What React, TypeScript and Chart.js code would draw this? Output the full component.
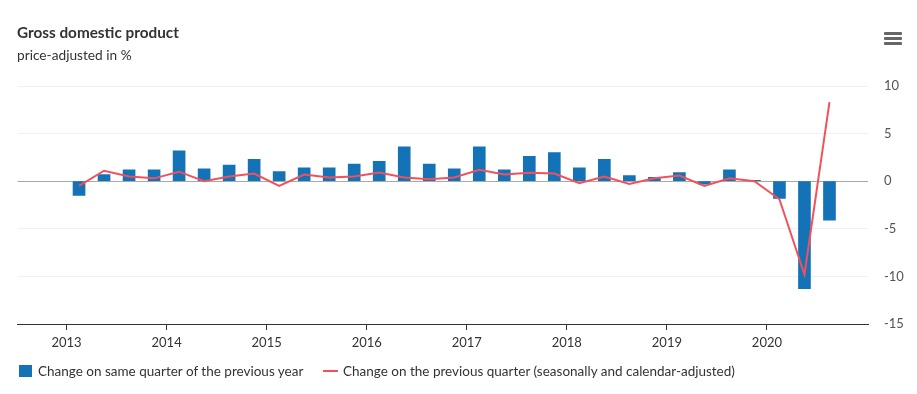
import React, { useEffect, useRef } from "react";
import { Chart, registerables } from "chart.js";

Chart.register(...registerables);

const quarters: string[] = [
  "2013 Q1", "2013 Q2", "2013 Q3", "2013 Q4",
  "2014 Q1", "2014 Q2", "2014 Q3", "2014 Q4",
  "2015 Q1", "2015 Q2", "2015 Q3", "2015 Q4",
  "2016 Q1", "2016 Q2", "2016 Q3", "2016 Q4",
  "2017 Q1", "2017 Q2", "2017 Q3", "2017 Q4",
  "2018 Q1", "2018 Q2", "2018 Q3", "2018 Q4",
  "2019 Q1", "2019 Q2", "2019 Q3", "2019 Q4",
  "2020 Q1", "2020 Q2", "2020 Q3",
];

const yearOnYear: number[] = [
  -1.5, 0.7, 1.2, 1.2,
  3.2, 1.3, 1.7, 2.3,
  1.0, 1.4, 1.4, 1.8,
  2.1, 3.6, 1.8, 1.3,
  3.6, 1.2, 2.6, 3.0,
  1.4, 2.3, 0.6, 0.4,
  0.9, -0.3, 1.2, 0.1,
  -1.8, -11.3, -4.1,
];

const quarterOnQuarter: number[] = [
  -0.5, 1.1, 0.5, 0.3,
  1.0, 0.0, 0.5, 0.8,
  -0.5, 0.7, 0.4, 0.5,
  0.9, 0.4, 0.2, 0.4,
  1.2, 0.7, 0.9, 0.8,
  -0.2, 0.5, -0.3, 0.3,
  0.6, -0.5, 0.3, 0.0,
  -1.9, -9.8, 8.3,
];

const yearTicks: number[] = [2013, 2014, 2015, 2016, 2017, 2018, 2019, 2020];
const yTicks: number[] = [-15, -10, -5, 0, 5, 10];

const barLabel = "Change on same quarter of the previous year";
const lineLabel = "Change on the previous quarter (seasonally and calendar-adjusted)";

const BLUE = "#1473b6";
const RED = "#f4505c";
const FONT = "Lato, 'Noto Sans', sans-serif";

// quarter label -> decimal year at the middle of the quarter
function quarterToX(q: string): number {
  const [y, qq] = q.split(" Q");
  return Number(y) + (Number(qq) - 0.5) / 4;
}

export default function App() {
  const canvasRef = useRef<HTMLCanvasElement | null>(null);

  useEffect(() => {
    document.body.style.margin = "0";
    const canvas = canvasRef.current;
    if (!canvas) return;
    const xs = quarters.map(quarterToX);
    const chart = new Chart(canvas, {
      type: "bar",
      data: {
        datasets: [
          {
            type: "line",
            label: lineLabel,
            data: xs.map((x, i) => ({ x, y: quarterOnQuarter[i] })),
            borderColor: RED,
            backgroundColor: RED,
            borderWidth: 2,
            pointRadius: 0,
            tension: 0,
            order: 0,
          } as any,
          {
            type: "bar",
            label: barLabel,
            data: xs.map((x, i) => ({ x, y: yearOnYear[i] })),
            backgroundColor: BLUE,
            borderWidth: 0,
            barThickness: 12,
            order: 1,
          } as any,
        ],
      },
      options: {
        responsive: false,
        animation: false,
        maintainAspectRatio: false,
        layout: { padding: { top: 86, left: 17.5, right: 0, bottom: 38.4 } },
        plugins: {
          legend: { display: false },
          tooltip: { enabled: false },
          title: { display: false },
        },
        scales: {
          x: {
            type: "linear",
            min: 2012.51,
            max: 2021.01,
            offset: false,
            afterBuildTicks: (axis: any) => {
              axis.ticks = yearTicks.map((v) => ({ value: v }));
            },
            grid: {
              offset: false,
              drawOnChartArea: false,
              drawTicks: true,
              tickLength: 6,
              color: "#333333",
              lineWidth: 1,
            },
            border: { display: true, color: "#333333", width: 1 },
            ticks: {
              autoSkip: false,
              maxRotation: 0,
              padding: 5,
              color: "#333333",
              font: { family: FONT, size: 13 },
              callback: (v: any) => String(v),
            },
          },
          y: {
            type: "linear",
            position: "right",
            min: -15,
            max: 10,
            afterBuildTicks: (axis: any) => {
              axis.ticks = yTicks.map((v) => ({ value: v }));
            },
            afterFit: (axis: any) => {
              axis.width = 49;
            },
            grid: {
              drawTicks: false,
              color: (ctx: any) => (ctx.tick && ctx.tick.value === 0 ? "#a9a9a9" : "#f0f0f0"),
              lineWidth: 1,
            },
            border: { display: false },
            ticks: {
              padding: 16,
              color: "#555555",
              font: { family: FONT, size: 13 },
              callback: (v: any) => String(v),
            },
          },
        },
      },
    });
    return () => chart.destroy();
  }, []);

  const bar = (top: number) => (
    <div
      style={{
        position: "absolute",
        left: 884,
        top,
        width: 18,
        height: 2.7,
        background: "#666666",
        borderRadius: 1,
      }}
    />
  );

  return (
    <div
      style={{
        position: "relative",
        width: 917,
        height: 394,
        background: "#ffffff",
        fontFamily: FONT,
        color: "#333333",
        overflow: "hidden",
      }}
    >
      <canvas
        ref={canvasRef}
        width={917}
        height={394}
        style={{ position: "absolute", left: 0, top: 0, width: 917, height: 394 }}
      />
      <div
        style={{
          position: "absolute",
          left: 17,
          top: 22,
          fontSize: 15.3,
          fontWeight: 700,
          lineHeight: "20px",
          whiteSpace: "nowrap",
        }}
      >
        Gross domestic product
      </div>
      <div
        style={{
          position: "absolute",
          left: 17,
          top: 46,
          fontSize: 13.7,
          lineHeight: "18px",
          whiteSpace: "nowrap",
        }}
      >
        price-adjusted in %
      </div>
      {bar(32)}
      {bar(37)}
      {bar(42)}
      <div
        style={{
          position: "absolute",
          left: 19,
          top: 364.5,
          width: 12.5,
          height: 12.5,
          background: BLUE,
        }}
      />
      <div
        style={{
          position: "absolute",
          left: 38,
          top: 362,
          fontSize: 13.5,
          lineHeight: "18px",
          whiteSpace: "nowrap",
        }}
      >
        {barLabel}
      </div>
      <div
        style={{
          position: "absolute",
          left: 323,
          top: 370,
          width: 15,
          height: 2,
          background: RED,
        }}
      />
      <div
        style={{
          position: "absolute",
          left: 343,
          top: 362,
          fontSize: 13.5,
          lineHeight: "18px",
          whiteSpace: "nowrap",
        }}
      >
        {lineLabel}
      </div>
    </div>
  );
}
